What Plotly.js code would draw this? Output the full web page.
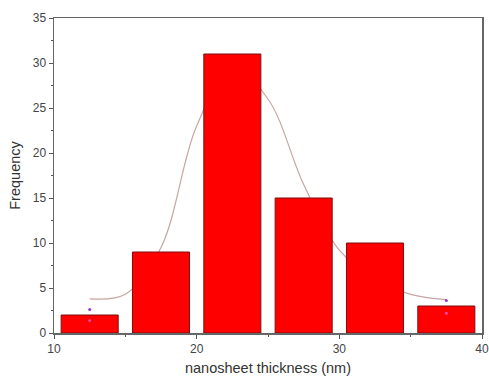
<!DOCTYPE html>
<html>
<head>
<meta charset="utf-8">
<script src="https://cdn.plot.ly/plotly-3.0.1.min.js"></script>
<style>html,body{margin:0;padding:0;background:#fff;}#chart{width:489px;height:383px;}</style>
</head>
<body>
<div id="chart"></div>
<script>
// Histogram bins (centers, nm) and counts
const binCenters = [12.5, 17.5, 22.5, 27.5, 32.5, 37.5];
const counts = [2, 9, 31, 15, 10, 3];

// Fitted curve
const fitX = [12.5, 15, 17.5, 20, 22.5, 25, 27.5, 30, 32.5, 35, 37.5];
const fitY = [3.8, 4.3, 9.5, 23, 29.5, 26, 16.5, 9.2, 6.0, 4.3, 3.7];

// Small end markers
const endX = [12.5, 37.5];
const endY = [2.6, 3.6];
const innerY = [1.4, 2.2];

const traces = [
  {
    type: 'scatter', mode: 'lines', x: fitX, y: fitY, xaxis: 'x', yaxis: 'y',
    line: {color: '#c9a4a4', width: 1.2, shape: 'spline', smoothing: 1},
    hoverinfo: 'skip'
  },
  {
    type: 'bar', x: binCenters, y: counts, width: 4, xaxis: 'x', yaxis: 'y2',
    marker: {color: '#ff0000', line: {color: '#7a1010', width: 1}}
  },
  {
    type: 'scatter', mode: 'markers', x: endX, y: endY, xaxis: 'x', yaxis: 'y2',
    marker: {color: '#9933cc', size: 3}
  },
  {
    type: 'scatter', mode: 'markers', x: endX, y: innerY, xaxis: 'x', yaxis: 'y2',
    marker: {color: '#ff44aa', size: 3}
  }
];

const fam = 'Liberation Sans, Arial, sans-serif';
const axisFont = {family: fam, size: 12, color: '#444'};

const layout = {
  width: 489, height: 383,
  margin: {l: 54, r: 7, t: 18, b: 50},
  showlegend: false,
  paper_bgcolor: '#fff', plot_bgcolor: '#fff',
  xaxis: {
    range: [10, 40], tickvals: [10, 20, 30, 40], ticks: 'outside', ticklen: 4,
    tickcolor: '#555', linecolor: '#666', linewidth: 1.5, mirror: true, showline: true,
    showgrid: false, zeroline: false, tickfont: axisFont,
    minor: {tickvals: [15, 25, 35], ticks: 'outside', ticklen: 2, tickcolor: '#555'},
    title: {text: 'nanosheet thickness (nm)', font: {family: fam, size: 14.5, color: '#333'}, standoff: 8}
  },
  yaxis: {
    range: [0, 35], dtick: 5, ticks: 'outside', ticklen: 4,
    tickcolor: '#555', linecolor: '#666', linewidth: 1.5, mirror: true, showline: true,
    showgrid: false, zeroline: false, tickfont: axisFont,
    minor: {dtick: 2.5, ticks: 'outside', ticklen: 2, tickcolor: '#555'},
    title: {text: 'Frequency', font: {family: fam, size: 14.5, color: '#333'}, standoff: 8}
  },
  yaxis2: {
    range: [0, 35], overlaying: 'y', visible: false, showgrid: false, zeroline: false
  },
  bargap: 0
};

Plotly.newPlot('chart', traces, layout, {displayModeBar: false, staticPlot: true});
</script>
</body>
</html>
